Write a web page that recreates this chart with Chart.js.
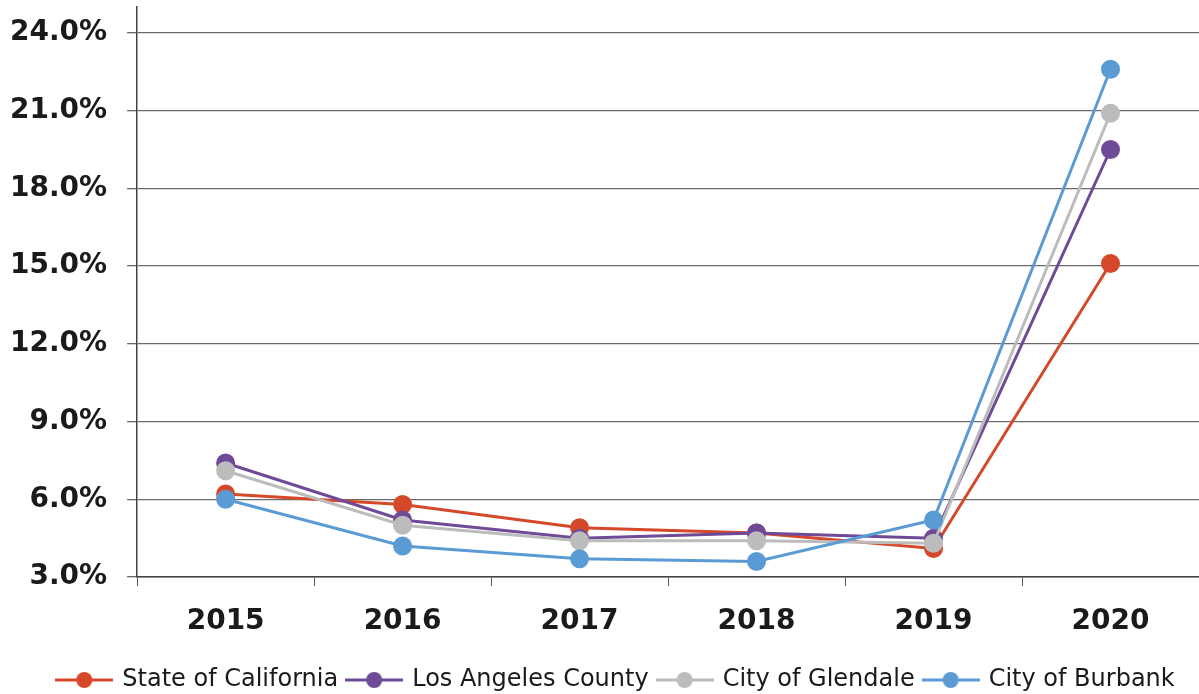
<!DOCTYPE html>
<html>
<head>
<meta charset="utf-8">
<script src="https://cdn.jsdelivr.net/npm/chart.js@4"></script>
<style>
  html, body { margin: 0; padding: 0; background: #fff; }
  #wrap { width: 1199px; height: 694px; }
</style>
</head>
<body>
<div id="wrap"><canvas id="rateChart"></canvas></div>
<script>
// Unemployment rate by year
const years = ['2015', '2016', '2017', '2018', '2019', '2020'];
const seriesNames = ['State of California', 'Los Angeles County', 'City of Glendale', 'City of Burbank'];
const california = [6.2, 5.8, 4.9, 4.7, 4.1, 15.1];
const laCounty = [7.4, 5.2, 4.5, 4.7, 4.5, 19.5];
const glendale = [7.1, 5.0, 4.4, 4.4, 4.3, 20.9];
const burbank = [6.0, 4.2, 3.7, 3.6, 5.2, 22.6];
const yTicks = [3, 6, 9, 12, 15, 18, 21, 24];

const colors = ['#d5482a', '#6f4a96', '#bcbcbc', '#5b9bd5'];
const values = [california, laCounty, glendale, burbank];

// little line + dot marker used in the legend
function legendMarker(color) {
  const c = document.createElement('canvas');
  c.width = 58;
  c.height = 18;
  const g = c.getContext('2d');
  g.strokeStyle = color;
  g.lineWidth = 3;
  g.beginPath();
  g.moveTo(0, 9);
  g.lineTo(58, 9);
  g.stroke();
  g.fillStyle = color;
  g.beginPath();
  g.arc(29, 9, 8, 0, Math.PI * 2);
  g.fill();
  return c;
}
const markers = colors.map(legendMarker);

// nudge the legend a bit to the right, like the original
const legendShift = {
  id: 'legendShift',
  afterLayout(chart) {
    if (chart.legend) {
      chart.legend.left += 22;
      chart.legend.right += 22;
    }
  }
};

const datasets = seriesNames.map((name, i) => ({
  label: name,
  data: values[i],
  borderColor: colors[i],
  backgroundColor: colors[i],
  pointBackgroundColor: colors[i],
  pointBorderColor: colors[i],
  borderWidth: 3,
  pointRadius: 8,
  pointHoverRadius: 8,
  tension: 0,
  order: seriesNames.length - i
}));

const ctx = document.getElementById('rateChart').getContext('2d');
new Chart(ctx, {
  type: 'line',
  data: { labels: years, datasets: datasets },
  plugins: [legendShift],
  options: {
    responsive: true,
    maintainAspectRatio: false,
    animation: false,
    layout: { autoPadding: false, padding: { top: 7, left: -10, right: 0, bottom: -8 } },
    plugins: {
      tooltip: { enabled: false },
      legend: {
        position: 'bottom',
        labels: {
          usePointStyle: true,
          pointStyleWidth: 52,
          padding: 10,
          color: '#1a1a1a',
          font: { family: 'DejaVu Sans', size: 24 },
          generateLabels: function(chart) {
            return seriesNames.map((name, i) => ({
              text: name,
              datasetIndex: i,
              pointStyle: markers[i],
              fillStyle: colors[i],
              strokeStyle: colors[i],
              lineWidth: 0,
              hidden: false,
              fontColor: '#1a1a1a'
            }));
          }
        }
      }
    },
    scales: {
      x: {
        offset: true,
        grid: {
          offset: true,
          drawOnChartArea: false,
          drawTicks: true,
          tickLength: 9,
          color: '#555'
        },
        border: { color: '#444', width: 1.5 },
        ticks: {
          color: '#1a1a1a',
          padding: 8,
          font: { family: 'DejaVu Sans', size: 28, weight: 'bold', lineHeight: 2.0 }
        }
      },
      y: {
        min: 3,
        max: 25,
        afterBuildTicks: function(axis) {
          axis.ticks = yTicks.map(v => ({ value: v }));
        },
        afterFit: function(axis) {
          axis.paddingTop = 0;
          axis.paddingBottom = 0;
        },
        grid: {
          color: '#6a6a6a',
          lineWidth: 1.3,
          drawTicks: true,
          tickLength: 10
        },
        border: { color: '#444', width: 1.5 },
        ticks: {
          color: '#1a1a1a',
          padding: 20,
          font: { family: 'DejaVu Sans', size: 28, weight: 'bold' },
          callback: function(value) {
            return value.toFixed(1) + '%';
          }
        }
      }
    }
  }
});
</script>
</body>
</html>
